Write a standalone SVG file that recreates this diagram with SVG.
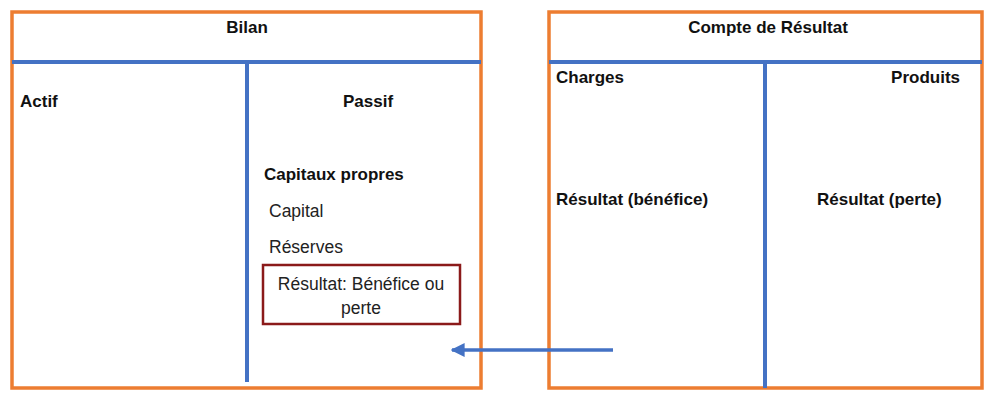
<svg xmlns="http://www.w3.org/2000/svg" width="990" height="404" viewBox="0 0 990 404">
<defs>
<style>
.frame{fill:none;stroke:#ED7D31;stroke-width:3.5}
.div{stroke:#4472C4;stroke-width:4;fill:none}
.b{font-family:"Liberation Sans",Arial,sans-serif;font-weight:bold;font-size:17px;fill:#111}
.n{font-family:"Liberation Sans",Arial,sans-serif;font-size:17.5px;fill:#222}
</style>
<marker id="ah" viewBox="0 0 10 10" refX="9" refY="5" markerWidth="4" markerHeight="4" orient="auto-start-reverse">
<path d="M0,0 L10,5 L0,10 z" fill="#4472C4"/>
</marker>
</defs>
<rect width="990" height="404" fill="#fff"/>
<g id="bilan">
<rect class="frame" x="12" y="12" width="469" height="376"/>
<line class="div" x1="12" y1="62" x2="481" y2="62"/>
<line class="div" x1="247" y1="62" x2="247" y2="382"/>
<text class="b" x="247" y="33" text-anchor="middle">Bilan</text>
<text class="b" x="20" y="107">Actif</text>
<text class="b" x="368" y="107" text-anchor="middle">Passif</text>
<text class="b" x="264" y="180">Capitaux propres</text>
<text class="n" x="269" y="217">Capital</text>
<text class="n" x="269" y="253">Réserves</text>
</g>
<g id="resultat-box">
<rect x="263" y="265" width="197" height="59" fill="none" stroke="#8B1A1A" stroke-width="2.5"/>
<text class="n" x="361" y="290" text-anchor="middle">Résultat: Bénéfice ou</text>
<text class="n" x="361" y="314" text-anchor="middle">perte</text>
</g>
<g id="compte">
<rect class="frame" x="549" y="12" width="433" height="376"/>
<line class="div" x1="549" y1="62" x2="982" y2="62"/>
<line class="div" x1="765" y1="62" x2="765" y2="388"/>
<text class="b" x="768" y="33" text-anchor="middle">Compte de Résultat</text>
<text class="b" x="556" y="83">Charges</text>
<text class="b" x="960" y="83" text-anchor="end">Produits</text>
<text class="b" x="556" y="205">Résultat (bénéfice)</text>
<text class="b" x="817" y="205">Résultat (perte)</text>
</g>
<g id="connectors">
<line x1="613" y1="350" x2="452" y2="350" stroke="#4472C4" stroke-width="3.5" marker-end="url(#ah)"/>
</g>
</svg>
